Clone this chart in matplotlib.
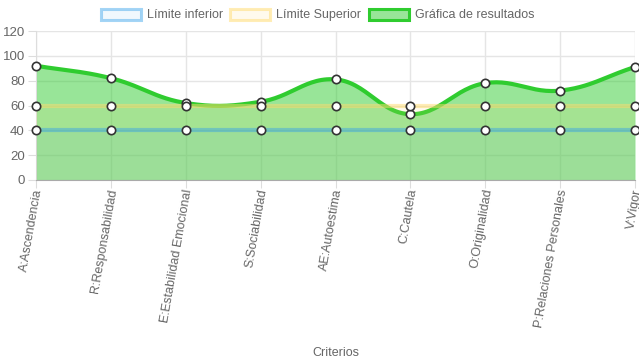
import numpy as np
import matplotlib
matplotlib.use("Agg")
import matplotlib.pyplot as plt
import matplotlib.transforms as mtransforms
from matplotlib.patches import Rectangle

criterios = ['A:Ascendencia', 'R:Responsabilidad', 'E:Estabilidad Emocional',
             'S:Sociabilidad', 'AE:Autoestima', 'C:Cautela', 'O:Originalidad',
             'P:Relaciones Personales', 'V:Vigor']
lim_inferior = [40, 40, 40, 40, 40, 40, 40, 40, 40]
lim_superior = [60, 60, 60, 60, 60, 60, 60, 60, 60]
resultados = [92, 82, 62, 63, 81, 53, 78, 72, 91]

plt.rcParams['font.family'] = ['Liberation Sans', 'DejaVu Sans']

W, H = 639, 360
fig = plt.figure(figsize=(W / 100, H / 100), dpi=100)
ax = fig.add_axes([36 / W, 1 - 180 / H, (635 - 36) / W, (180 - 31) / H])

# px scales used for Chart.js-like bezier tension
sx = (635 - 36) / 8.0
sy = (180 - 31) / 120.0


def spline(xs, ys, t=0.4, n=30):
    px = np.array(xs, float) * sx
    py = np.array(ys, float) * sy
    m = len(px)
    cp_prev = [(px[0], py[0])] * m
    cp_next = [(px[0], py[0])] * m
    for i in range(m):
        p0 = (px[max(i - 1, 0)], py[max(i - 1, 0)])
        p1 = (px[i], py[i])
        p2 = (px[min(i + 1, m - 1)], py[min(i + 1, m - 1)])
        d01 = np.hypot(p1[0] - p0[0], p1[1] - p0[1])
        d12 = np.hypot(p2[0] - p1[0], p2[1] - p1[1])
        s01 = d01 / (d01 + d12) if d01 + d12 else 0
        s12 = d12 / (d01 + d12) if d01 + d12 else 0
        fa, fb = t * s01, t * s12
        cp_prev[i] = (p1[0] - fa * (p2[0] - p0[0]), p1[1] - fa * (p2[1] - p0[1]))
        cp_next[i] = (p1[0] + fb * (p2[0] - p0[0]), p1[1] + fb * (p2[1] - p0[1]))
    ox, oy = [], []
    u = np.linspace(0, 1, n)
    for i in range(m - 1):
        P0 = np.array([px[i], py[i]])
        P1 = np.array(cp_next[i])
        P2 = np.array(cp_prev[i + 1])
        P3 = np.array([px[i + 1], py[i + 1]])
        b = ((1 - u) ** 3)[:, None] * P0 + (3 * (1 - u) ** 2 * u)[:, None] * P1 \
            + (3 * (1 - u) * u ** 2)[:, None] * P2 + (u ** 3)[:, None] * P3
        ox.extend(b[:, 0])
        oy.extend(b[:, 1])
    return np.array(ox) / sx, np.array(oy) / sy


x = np.arange(len(criterios))

gx, gy = spline(x, resultados)
green_line = '#2fcc2f'
green_fill = (50 / 255, 205 / 255, 50 / 255, 0.5)
blue_line = (54 / 255, 162 / 255, 235 / 255, 0.45)
blue_fill = (54 / 255, 162 / 255, 235 / 255, 0.07)
yel_line = (255 / 255, 220 / 255, 110 / 255, 0.5)
yel_fill = (255 / 255, 220 / 255, 110 / 255, 0.12)

ax.fill_between(gx, gy, 0, color=green_fill, lw=0, zorder=2)
ax.plot(gx, gy, color=green_line, lw=3, zorder=3, solid_capstyle='round')
ax.fill_between(x, lim_superior, 0, color=yel_fill, lw=0, zorder=4)
ax.plot(x, lim_superior, color=yel_line, lw=3, zorder=5)
ax.fill_between(x, lim_inferior, 0, color=blue_fill, lw=0, zorder=6)
ax.plot(x, lim_inferior, color=blue_line, lw=3, zorder=7)

for ys, z in [(resultados, 8), (lim_superior, 9), (lim_inferior, 10)]:
    ax.plot(x, ys, 'o', ms=6, mfc='white', mec='#333333', mew=1.2,
            zorder=z, clip_on=False)

ax.set_xlim(0, 8)
ax.set_ylim(0, 120)
ax.set_yticks(range(0, 121, 20))
ax.set_xticks(x)
ax.set_xticklabels([])
# rotated category labels, end of text at the tick like Chart.js
lbl_trans = mtransforms.offset_copy(ax.get_xaxis_transform(), fig=fig,
                                    x=3, y=-9, units='dots')
for xi, name in zip(x, criterios):
    ax.text(xi, 0, name, transform=lbl_trans, rotation=80, ha='right',
            va='center', rotation_mode='anchor', fontsize=9, color='#666666',
            clip_on=False)
ax.tick_params(axis='y', labelsize=9.5, labelcolor='#666666', color='#dddddd',
               length=6, pad=2)
ax.tick_params(axis='x', color='#dddddd', length=6)
ax.grid(True, color='#e5e5e5', lw=1, zorder=0)
ax.set_axisbelow(True)
for s in ['top', 'right']:
    ax.spines[s].set_visible(False)
ax.spines['left'].set_color('#dddddd')
ax.spines['bottom'].set_color('#aaaaaa')
ax.set_xlabel('Criterios', fontsize=9, color='#666666')
ax.xaxis.set_label_coords(0.5, (180 - 347) / 149.0)

# legend like Chart.js
items = [('Límite inferior', blue_fill, blue_line, 101),
         ('Límite Superior', yel_fill, yel_line, 230),
         ('Gráfica de resultados', green_fill, green_line, 369)]
for label, fc, ec, lx in items:
    fig.patches.append(Rectangle((lx / W, 1 - 20 / H), 40 / W, 11 / H,
                                 transform=fig.transFigure, fc=fc, ec=ec,
                                 lw=2.2))
    fig.text((lx + 46) / W, 1 - 15 / H, label, fontsize=9, color='#666666',
             va='center', ha='left')

fig.savefig('out.png', dpi=100)
